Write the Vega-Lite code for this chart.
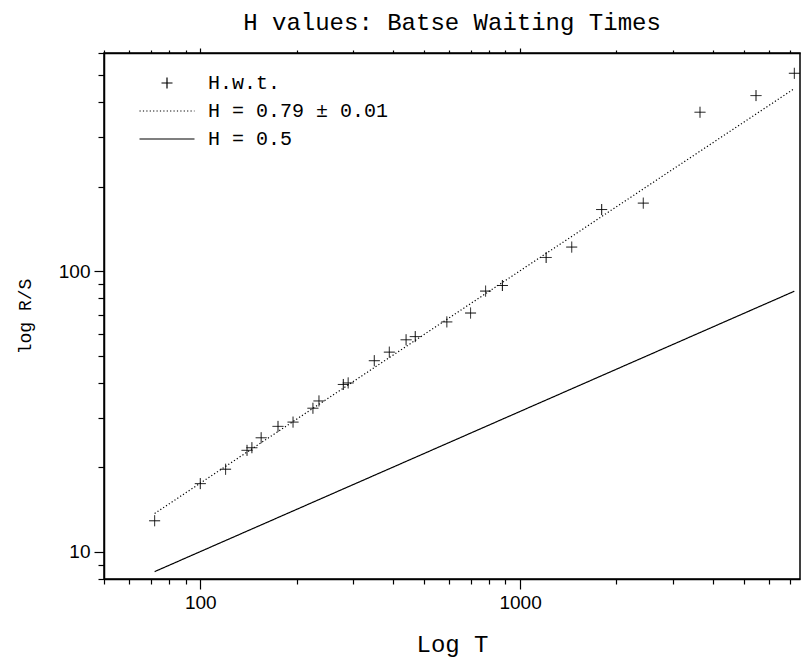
{
  "$schema": "https://vega.github.io/schema/vega-lite/v6.json",
  "autosize": "none",
  "width": 696,
  "height": 526,
  "padding": {"left": 104, "top": 53, "right": 1, "bottom": 84},
  "background": "white",
  "title": {"text": "H values: Batse Waiting Times", "font": "Liberation Mono", "fontSize": 24, "fontWeight": "normal", "color": "black", "offset": 12},
  "datasets": {
    "pts": [
      {"series": "H.w.t.", "T": 72, "RS": 12.9},
      {"series": "H.w.t.", "T": 100, "RS": 17.5},
      {"series": "H.w.t.", "T": 120, "RS": 19.7},
      {"series": "H.w.t.", "T": 140, "RS": 23},
      {"series": "H.w.t.", "T": 145, "RS": 23.5},
      {"series": "H.w.t.", "T": 155, "RS": 25.5},
      {"series": "H.w.t.", "T": 175, "RS": 28},
      {"series": "H.w.t.", "T": 195, "RS": 29},
      {"series": "H.w.t.", "T": 225, "RS": 32.5},
      {"series": "H.w.t.", "T": 235, "RS": 34.5},
      {"series": "H.w.t.", "T": 280, "RS": 39.5},
      {"series": "H.w.t.", "T": 290, "RS": 40},
      {"series": "H.w.t.", "T": 350, "RS": 48},
      {"series": "H.w.t.", "T": 390, "RS": 51.5},
      {"series": "H.w.t.", "T": 440, "RS": 57},
      {"series": "H.w.t.", "T": 470, "RS": 58.5},
      {"series": "H.w.t.", "T": 590, "RS": 66},
      {"series": "H.w.t.", "T": 700, "RS": 71},
      {"series": "H.w.t.", "T": 780, "RS": 85},
      {"series": "H.w.t.", "T": 880, "RS": 89},
      {"series": "H.w.t.", "T": 1206, "RS": 112},
      {"series": "H.w.t.", "T": 1450, "RS": 122},
      {"series": "H.w.t.", "T": 1799, "RS": 166},
      {"series": "H.w.t.", "T": 2427, "RS": 175},
      {"series": "H.w.t.", "T": 3651, "RS": 369},
      {"series": "H.w.t.", "T": 5464, "RS": 423},
      {"series": "H.w.t.", "T": 7200, "RS": 508}
    ],
    "lines": [
      {"series": "H = 0.79 ± 0.01", "T": 72, "RS": 13.7},
      {"series": "H = 0.79 ± 0.01", "T": 7200, "RS": 448},
      {"series": "H = 0.5", "T": 72, "RS": 8.5},
      {"series": "H = 0.5", "T": 7200, "RS": 84.9}
    ]
  },
  "layer": [
    {
      "data": {"name": "lines"},
      "mark": {"type": "line", "color": "black", "strokeWidth": 1.2},
      "encoding": {
        "x": {
          "field": "T", "type": "quantitative",
          "scale": {"type": "log", "domain": [50, 7500], "nice": false},
          "axis": {
            "orient": "bottom", "title": "Log T",
            "values": [50, 60, 70, 80, 90, 100, 200, 300, 400, 500, 600, 700, 800, 900, 1000, 2000, 3000, 4000, 5000, 6000, 7000],
            "format": "d",
            "labelExpr": "datum.value == 100 || datum.value == 1000 ? datum.label : ''",
            "tickSize": {"condition": {"test": "datum.value == 100 || datum.value == 1000", "value": 10}, "value": 5},
            "labelPadding": 4,
            "titlePadding": 20,
            "titleFontSize": 24
          }
        },
        "y": {
          "field": "RS", "type": "quantitative",
          "scale": {"type": "log", "domain": [8, 600], "nice": false},
          "axis": {
            "title": "log R/S",
            "values": [8, 9, 10, 20, 30, 40, 50, 60, 70, 80, 90, 100, 200, 300, 400, 500, 600],
            "format": "d",
            "labelExpr": "datum.value == 10 || datum.value == 100 ? datum.label : ''",
            "tickSize": {"condition": {"test": "datum.value == 10 || datum.value == 100", "value": 10}, "value": 6},
            "labelPadding": 4,
            "titlePadding": 24,
            "titleFontSize": 18
          }
        },
        "strokeDash": {
          "field": "series", "type": "nominal",
          "scale": {"domain": ["H.w.t.", "H = 0.79 ± 0.01", "H = 0.5"], "range": [[1, 0], [1.2, 2.2], [1, 0]]},
          "legend": {
            "title": null, "orient": "none", "legendX": 53, "legendY": 20,
            "labelFont": "Liberation Mono", "labelFontSize": 20, "labelColor": "black", "labelLimit": 500,
            "symbolSize": 100, "labelOffset": 31, "rowPadding": 8,
            "symbolStrokeColor": "black", "symbolStrokeWidth": 1.2, "symbolFillColor": "transparent"
          }
        }
      }
    },
    {
      "data": {"name": "pts"},
      "mark": {"type": "point", "filled": false, "size": 100, "color": "black", "strokeWidth": 1, "opacity": 1},
      "encoding": {
        "x": {"field": "T", "type": "quantitative", "scale": {"type": "log", "domain": [50, 7500], "nice": false},
          "axis": {"orient": "top", "title": null, "labels": false,
            "values": [50, 60, 70, 80, 90, 100, 200, 300, 400, 500, 600, 700, 800, 900, 1000, 2000, 3000, 4000, 5000, 6000, 7000],
            "tickSize": {"condition": {"test": "datum.value == 100 || datum.value == 1000", "value": 5}, "value": 3}}},
        "y": {"field": "RS", "type": "quantitative", "scale": {"type": "log", "domain": [8, 600], "nice": false}},
        "shape": {
          "field": "series", "type": "nominal",
          "scale": {"domain": ["H.w.t.", "H = 0.79 ± 0.01", "H = 0.5"], "range": ["M-1.1,0H1.1M0,-1.1V1.1", "M-5.5,0H5.5", "M-5.5,0H5.5"]}
        },
        "strokeDash": {
          "field": "series", "type": "nominal",
          "scale": {"domain": ["H.w.t.", "H = 0.79 ± 0.01", "H = 0.5"], "range": [[1, 0], [1.2, 2.2], [1, 0]]}
        }
      }
    }
  ],
  "resolve": {"axis": {"x": "independent"}},
  "config": {
    "view": {"stroke": "black", "strokeWidth": 1.5},
    "axis": {
      "grid": false,
      "domainColor": "black", "domainWidth": 1.5,
      "tickColor": "black", "tickWidth": 1.2,
      "labelFont": "Liberation Sans", "labelFontSize": 19, "labelColor": "black",
      "titleFont": "Liberation Mono", "titleFontWeight": "normal", "titleColor": "black"
    }
  }
}
